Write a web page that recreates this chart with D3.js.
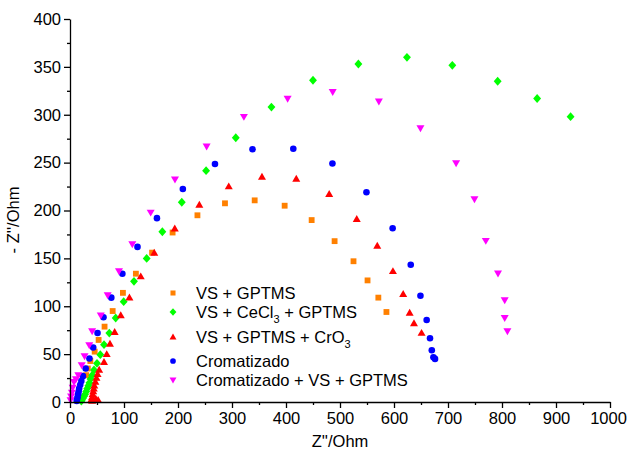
<!DOCTYPE html>
<html>
<head>
<meta charset="utf-8">
<script src="https://cdn.jsdelivr.net/npm/d3@7"></script>
<style>
  html, body { margin: 0; padding: 0; background: #fff; }
  svg { display: block; font-family: "Liberation Sans", Arial, sans-serif; }
</style>
</head>
<body>
<svg id="chart" width="628" height="457"></svg>
<script>
// Nyquist impedance spectra: real part Z' (Ohm) vs. negative imaginary part -Z'' (Ohm)

// VS + GPTMS
const vsGptmsRe = [586, 571, 551, 525, 490, 447.5, 397.5, 342, 287, 236, 190, 152, 122, 98, 79, 64, 53, 45.7, 37.7, 33, 30];
const vsGptmsIm = [94, 109, 127, 147, 168, 190, 205, 210.6, 207.5, 195, 177, 156, 134, 114, 95, 78.7, 64.8, 52.6, 42.8, 35, 28];

// VS + CeCl3 + GPTMS
const vsCeGptmsRe = [927, 865, 792, 708, 624, 534, 450, 373, 307, 252, 207, 171, 142, 118.5, 99.4, 84.6, 72.8, 63, 56.1, 50, 44.4, 41, 38, 36, 34, 32, 30, 28, 26, 24, 22, 21];
const vsCeGptmsIm = [298, 317, 335, 351.6, 360, 353, 336, 308, 276, 241.6, 208.6, 177.8, 150, 126, 104.8, 87.7, 72, 59.9, 49.4, 40.4, 33.4, 28, 24, 20, 17, 14, 11, 8, 6, 4, 2, 1];

// VS + GPTMS + CrO3
const vsGptmsCrRe = [651, 637, 629, 617, 598, 569, 531, 480, 419, 355.5, 294, 239.5, 194, 156, 131, 110, 94, 82.7, 74, 68, 63, 54, 51, 49, 47, 45, 44, 43, 42, 41, 40, 41, 44, 48, 52];
const vsGptmsCrIm = [72, 82, 93, 112.5, 136.5, 163, 191, 217, 233, 235, 225, 205.7, 181, 155.6, 131, 109, 90.5, 72.8, 60.6, 49.8, 41.5, 33.4, 29, 25, 21, 17, 14, 11, 8, 5, 3, 1, 2, 3, 2];

// Cromatizado
const cromRe = [676, 673, 670, 666.7, 660.5, 649, 631, 597.5, 549, 486, 413.5, 338, 268.5, 209, 161, 125, 97, 76.5, 62, 51, 43, 36, 29, 24, 21, 19, 17, 16, 15, 14, 13, 12.5];
const cromIm = [45, 46.7, 54, 66.5, 85.6, 111, 143.4, 181.4, 219, 249, 264.5, 263.9, 248.6, 222.5, 192, 162, 134, 109, 88.5, 72, 57, 45.5, 35, 27, 22, 18, 14, 11, 8, 5, 3, 1];

// Cromatizado + VS + GPTMS
const cromVsGptmsRe = [810, 805, 805, 792.6, 770, 749, 715, 649, 572, 486.5, 403, 322, 253, 194.4, 149.4, 115.4, 90.7, 69.8, 57, 41, 35.7, 27, 21.7, 15.4, 11, 7.4, 5, 3.5, 2, 1];
const cromVsGptmsIm = [74, 88, 106.5, 134.4, 168.5, 212, 249.6, 286, 314, 324, 317, 298, 267, 232.6, 198, 165, 136.8, 111.7, 90.5, 74, 59.5, 48, 38.6, 28.2, 24, 21.2, 15, 10, 6, 2];

const xTicks = [0, 100, 200, 300, 400, 500, 600, 700, 800, 900, 1000];
const yTicks = [0, 50, 100, 150, 200, 250, 300, 350, 400];

// marker shapes
const diamond = {
  draw(ctx, size) {
    const w = Math.sqrt(size) * 0.5, h = w * 1.12;
    ctx.moveTo(0, -h); ctx.lineTo(w, 0); ctx.lineTo(0, h); ctx.lineTo(-w, 0); ctx.closePath();
  }
};
const triUp = {
  draw(ctx, size) {
    const s = Math.sqrt(size), h = s * 0.87;
    ctx.moveTo(0, -h * 0.6); ctx.lineTo(s / 2, h * 0.4); ctx.lineTo(-s / 2, h * 0.4); ctx.closePath();
  }
};
const triDown = {
  draw(ctx, size) {
    const s = Math.sqrt(size), h = s * 0.87;
    ctx.moveTo(0, h * 0.6); ctx.lineTo(s / 2, -h * 0.4); ctx.lineTo(-s / 2, -h * 0.4); ctx.closePath();
  }
};

const series = [
  { re: vsGptmsRe, im: vsGptmsIm, color: "#FF8000", type: d3.symbolSquare, size: 34,
    label: [["VS + GPTMS"]] },
  { re: vsCeGptmsRe, im: vsCeGptmsIm, color: "#00FF00", type: diamond, size: 62,
    label: [["VS + CeCl"], ["3", true], [" + GPTMS"]] },
  { re: vsGptmsCrRe, im: vsGptmsCrIm, color: "#FF0000", type: triUp, size: 64,
    label: [["VS + GPTMS + CrO"], ["3", true]] },
  { re: cromRe, im: cromIm, color: "#0000FF", type: d3.symbolCircle, size: 34,
    label: [["Cromatizado"]] },
  { re: cromVsGptmsRe, im: cromVsGptmsIm, color: "#FF00FF", type: triDown, size: 64,
    label: [["Cromatizado + VS + GPTMS"]] }
];

const svg = d3.select("#chart");
const x = d3.scaleLinear().domain([0, 1000]).range([70, 610]);
const y = d3.scaleLinear().domain([0, 400]).range([402, 19]);

// data points
series.forEach(s => {
  const sym = d3.symbol().type(s.type).size(s.size);
  svg.append("g")
    .selectAll("path")
    .data(d3.zip(s.re, s.im))
    .join("path")
    .attr("transform", d => `translate(${x(d[0])},${y(d[1])})`)
    .attr("d", sym)
    .attr("fill", s.color);
});

// axes
const fontSize = 16.5;
svg.append("g").attr("transform", "translate(0,402)")
  .call(d3.axisBottom(x).tickValues(xTicks).tickFormat(d3.format("d"))
    .tickSize(6).tickSizeOuter(0).tickPadding(4))
  .call(g => g.selectAll(".tick text").filter(d => d === 1000).attr("dx", -2));
svg.append("g").attr("transform", "translate(0,402)")
  .call(d3.axisBottom(x).tickValues(d3.range(50, 1000, 100)).tickSize(3).tickFormat(""))
  .call(g => g.select(".domain").remove());
svg.append("g").attr("transform", "translate(70,0)")
  .call(d3.axisLeft(y).tickValues(yTicks).tickFormat(d3.format("d"))
    .tickSize(6).tickSizeOuter(0).tickPadding(3));
svg.append("g").attr("transform", "translate(70,0)")
  .call(d3.axisLeft(y).tickValues(d3.range(25, 400, 50)).tickSize(3).tickFormat(""))
  .call(g => g.select(".domain").remove());

svg.selectAll(".tick line, .domain").attr("stroke", "#000").attr("stroke-width", 1.3);
svg.selectAll(".tick text")
  .attr("font-family", "Liberation Sans, Arial, sans-serif")
  .attr("font-size", fontSize).attr("fill", "#000");

// axis titles
svg.append("text")
  .attr("x", x(500)).attr("y", 447)
  .attr("text-anchor", "middle")
  .attr("font-size", fontSize).attr("fill", "#000")
  .text("Z''/Ohm");
svg.append("text")
  .attr("transform", "translate(19,220) rotate(-90)")
  .attr("text-anchor", "middle")
  .attr("font-size", fontSize).attr("fill", "#000")
  .text("- Z''/Ohm");

// legend
const legendRows = [293, 312, 337, 361, 380];
series.forEach((s, i) => {
  const ly = legendRows[i];
  svg.append("path")
    .attr("transform", `translate(173,${ly})`)
    .attr("d", d3.symbol().type(s.type).size(s.size * 0.75))
    .attr("fill", s.color);
  const t = svg.append("text")
    .attr("x", 196).attr("y", ly + 6)
    .attr("font-size", fontSize).attr("fill", "#000");
  s.label.forEach(([str, sub]) => {
    if (sub) {
      t.append("tspan").attr("dy", 5).attr("font-size", 11).text(str);
    } else {
      const ts = t.append("tspan").text(str);
      if (t.selectAll("tspan").size() > 1) ts.attr("dy", -5);
    }
  });
});
</script>
</body>
</html>
